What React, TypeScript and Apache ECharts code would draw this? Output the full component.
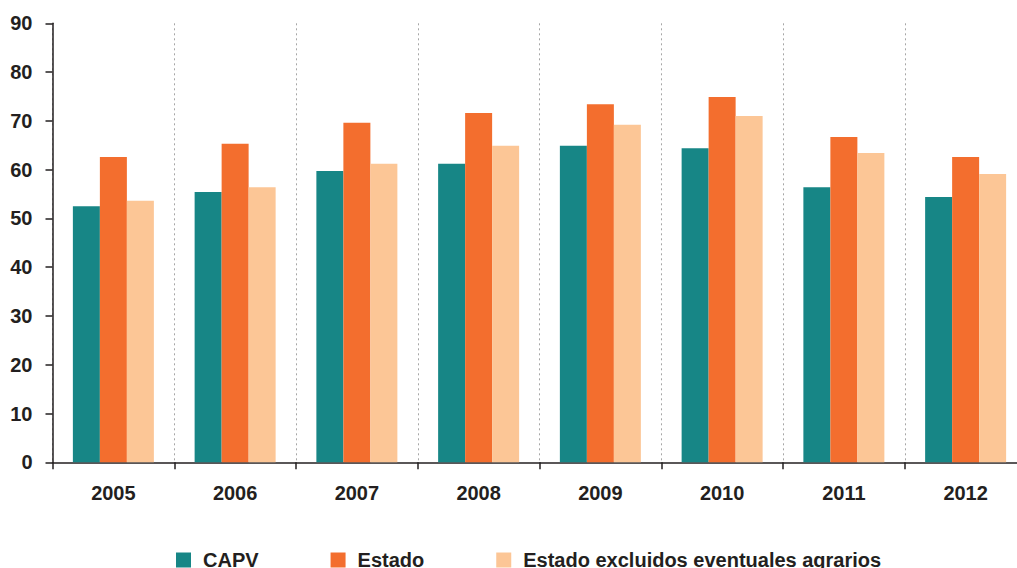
import React, { useEffect, useRef } from "react";
import * as echarts from "echarts";

const categories = ["2005", "2006", "2007", "2008", "2009", "2010", "2011", "2012"];
const capv = [52.5, 55.4, 59.7, 61.2, 64.9, 64.4, 56.4, 54.4];
const estado = [62.6, 65.3, 69.6, 71.6, 73.4, 74.9, 66.7, 62.6];
const estadoExcl = [53.6, 56.4, 61.2, 64.9, 69.2, 71.0, 63.4, 59.1];
const seriesNames = ["CAPV", "Estado", "Estado excluidos eventuales agrarios"];
const colors = ["#178686", "#F36E2E", "#FCC696"];

export default function App() {
  const ref = useRef<HTMLDivElement>(null);
  useEffect(() => {
    if (!ref.current) return;
    const chart = echarts.init(ref.current, undefined, { renderer: "svg" });
    const font = "Liberation Sans, Arial, sans-serif";
    const mk = (name: string, data: number[], color: string) => ({
      name,
      type: "bar",
      data,
      barWidth: 27,
      barGap: "0%",
      itemStyle: { color },
    });
    chart.setOption({
      animation: false,
      backgroundColor: "#ffffff",
      grid: { left: 52.5, top: 23.3, width: 974, height: 439 },
      legend: {
        data: seriesNames,
        left: 171,
        top: 545,
        itemWidth: 15,
        itemHeight: 15,
        itemGap: 72,
        icon: "rect",
        textStyle: {
          fontFamily: font,
          fontWeight: "bold",
          fontSize: 20,
          color: "#231F20",
          padding: [0, 0, 0, 7],
        },
      },
      xAxis: {
        type: "category",
        data: categories,
        axisLine: { lineStyle: { color: "#231F20", width: 1.5 } },
        axisTick: { show: true, length: 7, lineStyle: { color: "#231F20", width: 1.5 } },
        axisLabel: {
          margin: 21,
          fontFamily: font,
          fontWeight: "bold",
          fontSize: 20,
          color: "#231F20",
        },
        splitLine: {
          show: true,
          lineStyle: { color: "#A6A6A6", type: [2, 3], width: 1 },
        },
      },
      yAxis: {
        type: "value",
        min: 0,
        max: 90,
        interval: 10,
        axisLine: { show: true, lineStyle: { color: "#231F20", width: 1.5 } },
        axisTick: { show: true, length: 7, lineStyle: { color: "#231F20", width: 1.5 } },
        splitLine: { show: false },
        axisLabel: {
          margin: 20,
          fontFamily: font,
          fontWeight: "bold",
          fontSize: 20,
          color: "#231F20",
        },
      },
      series: [
        mk(seriesNames[0], capv, colors[0]),
        mk(seriesNames[1], estado, colors[1]),
        mk(seriesNames[2], estadoExcl, colors[2]),
      ],
    });
    return () => chart.dispose();
  }, []);
  return (
    <div style={{ position: "absolute", left: 0, top: 0, width: 1017, height: 568, overflow: "hidden" }}>
      <div ref={ref} style={{ width: 1030, height: 568 }} />
    </div>
  );
}
